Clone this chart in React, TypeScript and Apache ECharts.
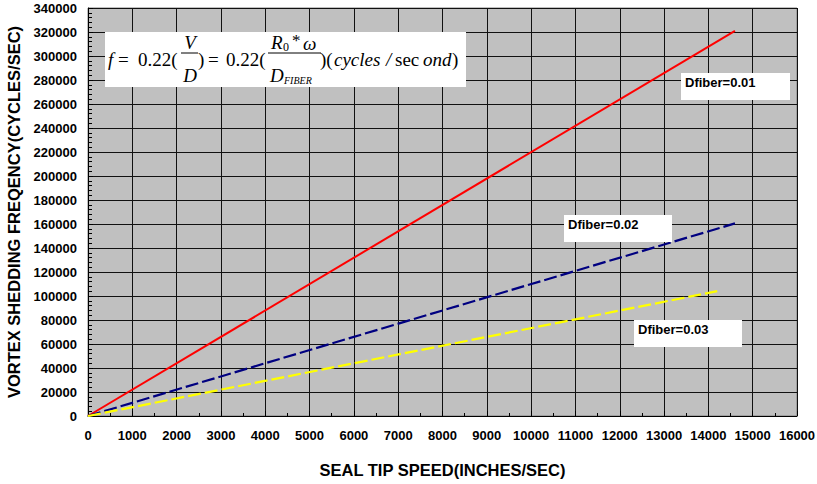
import React, { useEffect, useRef } from "react";
import * as echarts from "echarts";

const xTicks = { min: 0, max: 16000, interval: 1000 };
const yTicks = { min: 0, max: 340000, interval: 20000 };

const seriesNames = ["Dfiber=0.01", "Dfiber=0.02", "Dfiber=0.03"];
const redSpeed = [0, 14600];
const redFreq = [0, 321000];
const blueSpeed = [0, 14600];
const blueFreq = [0, 160500];
const yellowSpeed = [0, 14200];
const yellowFreq = [0, 104000];

const xTitle = "SEAL TIP SPEED(INCHES/SEC)";
const yTitle = "VORTEX SHEDDING FREQENCY(CYCLES/SEC)";

const pair = (xs: number[], ys: number[]) => xs.map((x, i) => [x, ys[i]]);

const SERIF = "'Liberation Serif', 'Times New Roman', serif";
const SANS = "'Liberation Sans', Arial, Helvetica, sans-serif";

function t(text: string, x: number, y: number, size: number, italic: boolean, align = "left") {
  return {
    type: "text",
    x,
    y,
    z: 101,
    style: {
      text,
      fill: "#000",
      font: `${italic ? "italic " : ""}${size}px ${SERIF}`,
      align,
      verticalAlign: "middle",
    },
  };
}

function labelBox(text: string, x: number, y: number, w: number, h: number) {
  return [
    {
      type: "rect",
      z: 100,
      shape: { x, y, width: w, height: h },
      style: { fill: "#fff", stroke: null },
    },
    {
      type: "text",
      z: 101,
      x: x + 4,
      y: y + 9.5,
      style: {
        text,
        fill: "#000",
        font: `bold 13px ${SANS}`,
        align: "left",
        verticalAlign: "middle",
      },
    },
  ];
}

export default function App() {
  const ref = useRef<HTMLDivElement>(null);
  useEffect(() => {
    if (!ref.current) return;
    const chart = echarts.init(ref.current, undefined, { renderer: "svg" });
    const axisLabelStyle = {
      color: "#000",
      fontWeight: "bold",
      fontFamily: SANS,
      fontSize: 13,
      formatter: (v: number) => String(v),
    };
    const nameStyle = { color: "#000", fontWeight: "bold", fontSize: 16.5, fontFamily: SANS };
    const option: any = {
      animation: false,
      backgroundColor: "#fff",
      grid: {
        left: 88,
        right: 20,
        top: 8,
        bottom: 68,
        containLabel: false,
        outerBoundsMode: "none",
        show: true,
        backgroundColor: "#C0C0C0",
        borderColor: "#808080",
        borderWidth: 1,
      },
      xAxis: {
        type: "value",
        min: xTicks.min,
        max: xTicks.max,
        interval: xTicks.interval,
        name: xTitle,
        nameLocation: "middle",
        nameGap: 45,
        nameTextStyle: nameStyle,
        axisLine: { show: true, lineStyle: { color: "#000", width: 1 } },
        axisTick: { show: true, inside: true, length: 5, lineStyle: { color: "#000" } },
        minorTick: { show: true, splitNumber: 2, length: 3, lineStyle: { color: "#000" } },
        splitLine: { show: true, lineStyle: { color: "#111", width: 1 } },
        axisLabel: { ...axisLabelStyle, margin: 13 },
      },
      yAxis: {
        type: "value",
        min: yTicks.min,
        max: yTicks.max,
        interval: yTicks.interval,
        name: yTitle,
        nameLocation: "middle",
        nameGap: 60,
        nameRotate: 90,
        nameTextStyle: nameStyle,
        axisLine: { show: true, lineStyle: { color: "#000", width: 1 } },
        axisTick: { show: true, inside: true, length: 5, lineStyle: { color: "#000" } },
        minorTick: { show: true, splitNumber: 5, length: 4, lineStyle: { color: "#000" } },
        splitLine: { show: true, lineStyle: { color: "#111", width: 1 } },
        axisLabel: { ...axisLabelStyle, margin: 11 },
      },
      series: [
        {
          name: seriesNames[0],
          type: "line",
          data: pair(redSpeed, redFreq),
          showSymbol: false,
          symbol: "none",
          lineStyle: { color: "#FF0000", width: 2, type: "solid" },
          z: 5,
        },
        {
          name: seriesNames[1],
          type: "line",
          data: pair(blueSpeed, blueFreq),
          showSymbol: false,
          symbol: "none",
          lineStyle: { color: "#000080", width: 2.2, type: [13, 4] },
          z: 5,
        },
        {
          name: seriesNames[2],
          type: "line",
          data: pair(yellowSpeed, yellowFreq),
          showSymbol: false,
          symbol: "none",
          lineStyle: { color: "#FFFF00", width: 2.2, type: [13, 4] },
          z: 5,
        },
      ],
      graphic: [
        {
          type: "rect",
          z: 100,
          shape: { x: 105, y: 32, width: 361, height: 55 },
          style: { fill: "#fff", stroke: null },
        },
        t("f", 108, 59, 19, true),
        t("=", 118, 59, 19, false),
        t("0.22(", 138, 59, 19, false),
        t("V", 190, 42, 19, true, "center"),
        {
          type: "line",
          z: 101,
          shape: { x1: 181, y1: 53, x2: 198, y2: 53 },
          style: { stroke: "#000", lineWidth: 1 },
        },
        t("D", 190, 75, 19, true, "center"),
        t(")", 198, 59, 19, false),
        t("=", 208, 59, 19, false),
        t("0.22(", 226, 59, 19, false),
        t("R", 271, 42, 19, true),
        t("0", 283, 47, 12, false),
        t("*", 292, 40, 17, false),
        t("\u03c9", 303, 43, 19, true),
        {
          type: "line",
          z: 101,
          shape: { x1: 268, y1: 53, x2: 321, y2: 53 },
          style: { stroke: "#000", lineWidth: 1 },
        },
        t("D", 270, 75, 19, true),
        t("FIBER", 284, 80, 10, true),
        t(")(", 320, 59, 19, false),
        t("cycles", 334, 59, 19, true),
        t("/", 386, 59, 19, true),
        t("sec", 395, 59, 19, false),
        t("ond", 423, 59, 19, true),
        t(")", 452, 59, 19, false),
        ...labelBox(seriesNames[0], 681, 73, 109, 27),
        ...labelBox(seriesNames[1], 564, 215, 108, 27),
        ...labelBox(seriesNames[2], 634, 320, 108, 27),
      ],
    };
    chart.setOption(option);
    return () => chart.dispose();
  }, []);
  return (
    <div
      ref={ref}
      style={{ position: "fixed", left: 0, top: 0, width: 817, height: 484, background: "#fff" }}
    />
  );
}
